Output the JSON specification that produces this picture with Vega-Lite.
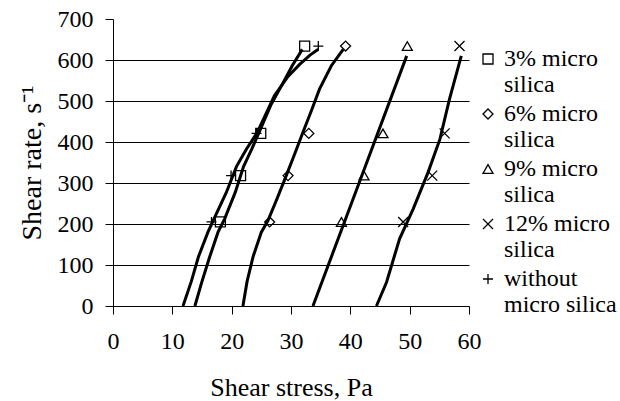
{
  "$schema": "https://vega.github.io/schema/vega-lite/v6.json",
  "autosize": {"type": "none"},
  "padding": {"left": 113, "top": 19, "right": 151, "bottom": 95},
  "width": 356,
  "height": 287,
  "background": "white",
  "config": {
    "view": {"stroke": null}
  },
  "datasets": {
    "lines": [
      {"series": "without micro silica", "stress": 11.8, "rate": 0},
      {"series": "without micro silica", "stress": 13.2, "rate": 60},
      {"series": "without micro silica", "stress": 14.4, "rate": 120},
      {"series": "without micro silica", "stress": 16.0, "rate": 180},
      {"series": "without micro silica", "stress": 17.0, "rate": 212},
      {"series": "without micro silica", "stress": 19.1, "rate": 277},
      {"series": "without micro silica", "stress": 20.8, "rate": 340},
      {"series": "without micro silica", "stress": 22.5, "rate": 383},
      {"series": "without micro silica", "stress": 24.3, "rate": 423},
      {"series": "without micro silica", "stress": 27.2, "rate": 513},
      {"series": "without micro silica", "stress": 29.5, "rate": 560},
      {"series": "without micro silica", "stress": 31.5, "rate": 590},
      {"series": "without micro silica", "stress": 33.2, "rate": 612},
      {"series": "without micro silica", "stress": 34.6, "rate": 626},
      {"series": "3% micro silica", "stress": 13.8, "rate": 0},
      {"series": "3% micro silica", "stress": 15.0, "rate": 60},
      {"series": "3% micro silica", "stress": 16.3, "rate": 120},
      {"series": "3% micro silica", "stress": 17.7, "rate": 180},
      {"series": "3% micro silica", "stress": 18.8, "rate": 212},
      {"series": "3% micro silica", "stress": 20.6, "rate": 277},
      {"series": "3% micro silica", "stress": 22.0, "rate": 340},
      {"series": "3% micro silica", "stress": 23.4, "rate": 383},
      {"series": "3% micro silica", "stress": 24.6, "rate": 423},
      {"series": "3% micro silica", "stress": 26.6, "rate": 490},
      {"series": "3% micro silica", "stress": 28.5, "rate": 540},
      {"series": "3% micro silica", "stress": 30.2, "rate": 586},
      {"series": "3% micro silica", "stress": 31.9, "rate": 626},
      {"series": "6% micro silica", "stress": 21.9, "rate": 0},
      {"series": "6% micro silica", "stress": 22.6, "rate": 60},
      {"series": "6% micro silica", "stress": 23.6, "rate": 120},
      {"series": "6% micro silica", "stress": 25.0, "rate": 180},
      {"series": "6% micro silica", "stress": 26.1, "rate": 208},
      {"series": "6% micro silica", "stress": 27.6, "rate": 260},
      {"series": "6% micro silica", "stress": 29.2, "rate": 318},
      {"series": "6% micro silica", "stress": 30.6, "rate": 370},
      {"series": "6% micro silica", "stress": 32.0, "rate": 423},
      {"series": "6% micro silica", "stress": 33.4, "rate": 475},
      {"series": "6% micro silica", "stress": 34.8, "rate": 529},
      {"series": "6% micro silica", "stress": 36.8, "rate": 586},
      {"series": "6% micro silica", "stress": 38.8, "rate": 626},
      {"series": "9% micro silica", "stress": 33.7, "rate": 0},
      {"series": "9% micro silica", "stress": 41.6, "rate": 305},
      {"series": "9% micro silica", "stress": 49.5, "rate": 610},
      {"series": "12% micro silica", "stress": 44.4, "rate": 0},
      {"series": "12% micro silica", "stress": 46.1, "rate": 58},
      {"series": "12% micro silica", "stress": 48.3, "rate": 164},
      {"series": "12% micro silica", "stress": 50.6, "rate": 237},
      {"series": "12% micro silica", "stress": 53.1, "rate": 326},
      {"series": "12% micro silica", "stress": 55.1, "rate": 407},
      {"series": "12% micro silica", "stress": 56.7, "rate": 504},
      {"series": "12% micro silica", "stress": 58.7, "rate": 610}
    ],
    "points": [
      {"series": "3% micro silica", "stress": 18.1, "rate": 205},
      {"series": "3% micro silica", "stress": 21.5, "rate": 318},
      {"series": "3% micro silica", "stress": 24.9, "rate": 421},
      {"series": "3% micro silica", "stress": 32.3, "rate": 634},
      {"series": "6% micro silica", "stress": 26.4, "rate": 205},
      {"series": "6% micro silica", "stress": 29.5, "rate": 318},
      {"series": "6% micro silica", "stress": 33.0, "rate": 421},
      {"series": "6% micro silica", "stress": 39.2, "rate": 634},
      {"series": "9% micro silica", "stress": 38.5, "rate": 205},
      {"series": "9% micro silica", "stress": 42.3, "rate": 318},
      {"series": "9% micro silica", "stress": 45.5, "rate": 421},
      {"series": "9% micro silica", "stress": 49.6, "rate": 634},
      {"series": "12% micro silica", "stress": 48.9, "rate": 205},
      {"series": "12% micro silica", "stress": 53.8, "rate": 318},
      {"series": "12% micro silica", "stress": 55.9, "rate": 421},
      {"series": "12% micro silica", "stress": 58.4, "rate": 634},
      {"series": "without micro silica", "stress": 16.6, "rate": 205},
      {"series": "without micro silica", "stress": 19.9, "rate": 318},
      {"series": "without micro silica", "stress": 24.2, "rate": 421},
      {"series": "without micro silica", "stress": 34.6, "rate": 634}
    ]
  },
  "encoding": {
    "x": {
      "field": "stress", "type": "quantitative",
      "scale": {"domain": [0, 60], "nice": false, "zero": false},
      "axis": {
        "title": "Shear stress, Pa", "titleFont": "Liberation Serif", "titleFontSize": 26, "titleFontWeight": "normal", "titleColor": "black", "titlePadding": 21,
        "values": [0, 10, 20, 30, 40, 50, 60], "labelFont": "Liberation Serif", "labelFontSize": 24, "labelColor": "black", "labelPadding": 15,
        "tickSize": 8, "tickColor": "black", "domainColor": "black", "grid": false, "labelFlush": false
      }
    },
    "y": {
      "field": "rate", "type": "quantitative",
      "scale": {"domain": [0, 700], "nice": false},
      "axis": {
        "title": "Shear rate, s⁻¹", "titleFont": "Liberation Serif", "titleFontSize": 28, "titleFontWeight": "normal", "titleColor": "black", "titlePadding": 11,
        "values": [0, 100, 200, 300, 400, 500, 600, 700], "labelFont": "Liberation Serif", "labelFontSize": 24, "labelColor": "black", "labelPadding": 12,
        "tickSize": 8, "tickColor": "black", "domainColor": "black",
        "grid": true, "gridColor": "black", "gridWidth": 1,
        "gridOpacity": {"condition": {"test": "datum.value == 700", "value": 0}, "value": 1}
      }
    }
  },
  "layer": [
    {
      "data": {"name": "lines"},
      "mark": {"type": "line", "color": "black", "strokeWidth": 3},
      "encoding": {"detail": {"field": "series"}}
    },
    {
      "data": {"name": "points"},
      "mark": {"type": "point", "filled": false, "color": "black", "strokeWidth": 1.3, "size": 100, "opacity": 1},
      "encoding": {
        "shape": {
          "field": "series", "type": "nominal",
          "scale": {
            "domain": ["3% micro silica", "6% micro silica", "9% micro silica", "12% micro silica", "without micro silica"],
            "range": ["square", "diamond", "triangle-up", "M-1,-1L1,1M-1,1L1,-1", "M-1,0L1,0M0,-1L0,1"]
          },
          "legend": {
            "title": null, "orient": "none", "legendX": 363, "legendY": 28, "padding": 0, "rowPadding": 5,
            "labelFontSize": 24, "labelColor": "black", "labelFont": "Liberation Serif",
            "labelLimit": 200, "labelOffset": 4, "symbolSize": 100, "symbolStrokeColor": "black", "symbolStrokeWidth": 1.3,
            "labelBaseline": "middle",
            "labelExpr": "datum.label == 'without micro silica' ? ['without', 'micro silica'] : [replace(datum.label, ' silica', ''), 'silica']"
          }
        }
      }
    }
  ]
}
